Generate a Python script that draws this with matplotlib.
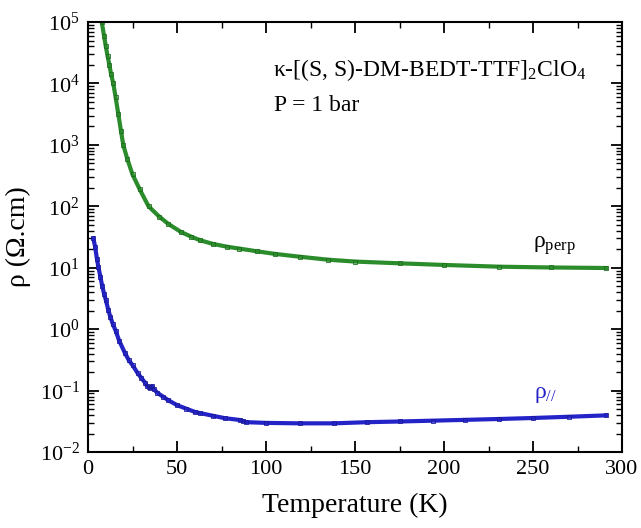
import matplotlib
matplotlib.use("Agg")
import matplotlib.pyplot as plt
import numpy as np

plt.rcParams['font.family'] = ['Liberation Serif', 'DejaVu Serif']
plt.rcParams['mathtext.fontset'] = 'custom'
plt.rcParams['mathtext.rm'] = 'Liberation Serif'
plt.rcParams['mathtext.it'] = 'Liberation Serif:italic'

# rho_perp (green)
T_perp = [7.7, 9, 10, 11, 12, 13, 14.2, 15.5, 17, 18.5, 19.8, 22, 25, 29, 34, 40, 45,
          52, 58, 63, 70, 78, 85, 95, 105, 119, 135, 150, 175, 200, 231, 260, 291]
rho_perp = [1e5, 6e4, 4e4, 2.8e4, 2e4, 1.4e4, 1e4, 6e3, 3.2e3, 1.7e3, 1e3, 600, 330, 190,
            100, 68, 52, 38.5, 32, 28, 24.5, 22, 20.5, 18.5, 16.8, 15.1, 13.5, 12.6,
            11.8, 11.1, 10.4, 10.1, 9.9]

# rho_// (blue)
T_par = [3.0, 4, 5, 5.8, 7, 8, 9, 10, 11.4, 12.5, 14, 15.5, 17.5, 20.8, 23, 25, 28, 30,
         32, 33, 34, 35, 36, 37, 39, 42, 45, 50, 55, 60, 63, 70, 77, 85.4, 87, 89, 100,
         119, 138, 157, 175, 194, 212, 231, 250, 270, 291]
rho_par = [30, 22, 14, 10.4, 7, 5, 3.8, 3, 2.05, 1.6, 1.2, 0.95, 0.65, 0.405, 0.31, 0.26,
           0.19, 0.16, 0.135, 0.12, 0.115, 0.11, 0.118, 0.105, 0.092, 0.08, 0.07, 0.058,
           0.051, 0.045, 0.043, 0.039, 0.0355, 0.0332, 0.032, 0.0306, 0.0298, 0.0293,
           0.0293, 0.0306, 0.0314, 0.0324, 0.0334, 0.0345, 0.0358, 0.0375, 0.0395]

green = '#2a8c2a'
blue = '#2323c8'

fig = plt.figure(figsize=(6.41, 5.28), dpi=100)
ax = fig.add_axes([0.1373, 0.1439, 0.8331, 0.8144])

ax.plot(T_perp, rho_perp, color=green, lw=3.0, marker='s', ms=2.5, mfc='none',
        mec='#1f6e1f', mew=0.6)
ax.plot(T_par, rho_par, color=blue, lw=3.0, marker='s', ms=2.5, mfc='none',
        mec='#1a1a9a', mew=0.6)

ax.set_yscale('log')
ax.set_xlim(0, 300)
ax.set_ylim(1e-2, 1e5)
ax.set_xticks([0, 50, 100, 150, 200, 250, 300])
ax.set_xticks([25, 75, 125, 175, 225, 275], minor=True)
ax.yaxis.set_major_locator(matplotlib.ticker.LogLocator(base=10, numticks=10))
ax.yaxis.set_minor_locator(matplotlib.ticker.LogLocator(base=10, subs=np.arange(2, 10), numticks=20))
ax.yaxis.set_minor_formatter(matplotlib.ticker.NullFormatter())

ax.tick_params(which='both', direction='in', top=True, right=True, labelsize=16, pad=6)
ax.tick_params(which='major', length=8, width=1.3)
ax.tick_params(which='minor', length=4, width=1.0)
for s in ax.spines.values():
    s.set_linewidth(1.5)

ax.set_xlabel('Temperature (K)', fontsize=20, labelpad=10)
ax.set_ylabel('ρ (Ω.cm)', fontsize=20, labelpad=6)

ax.text(0.346, 0.874, 'κ-[(S, S)-DM-BEDT-TTF]$_2$ClO$_4$', transform=ax.transAxes,
        fontsize=17, va='baseline')
ax.text(0.348, 0.793, 'P = 1 bar', transform=ax.transAxes, fontsize=17, va='baseline')
ax.text(0.834, 0.475, 'ρ$_{\\mathrm{perp}}$', transform=ax.transAxes, fontsize=17)
ax.text(0.835, 0.125, 'ρ$_{//}$', transform=ax.transAxes, fontsize=17, color=blue)

fig.savefig('out.png', dpi=100)
